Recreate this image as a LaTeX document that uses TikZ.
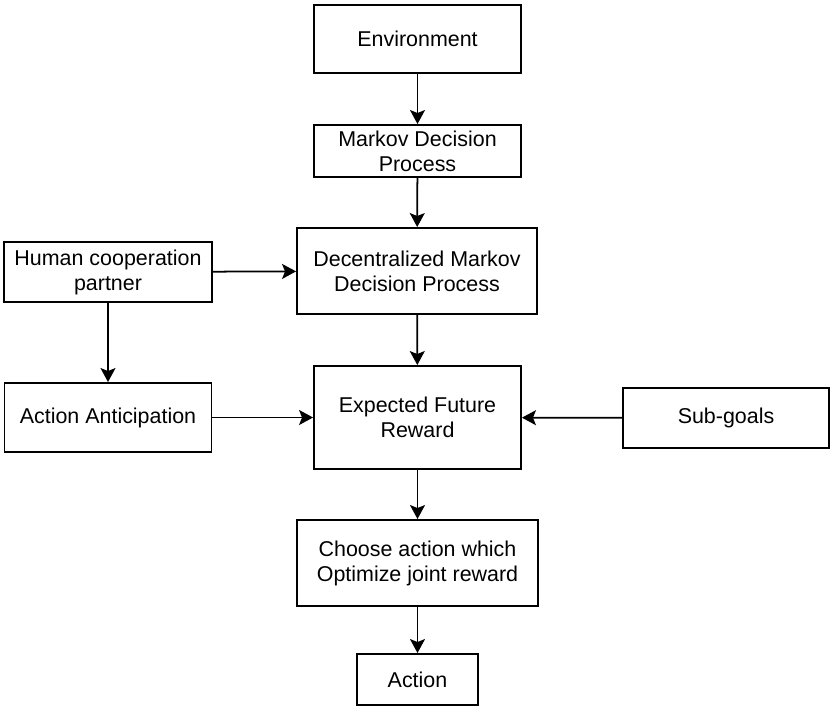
\documentclass[tikz,border=0pt]{standalone}
\usepackage{fontspec}
\setmainfont{Liberation Sans}
\usetikzlibrary{arrows.meta}

\begin{document}
\begin{tikzpicture}[x=0.02cm, y=-0.02cm, font=\fontsize{12.2}{14.2}\selectfont,
    box/.style={draw, line width=1.1pt, align=center, inner sep=0pt},
    arr/.style={-{Stealth[length=0.28cm, width=0.3cm, inset=0.06cm]}, line width=1pt}]
    \useasboundingbox (0,0) rectangle (830,706);
    \node[box, minimum width=4.14cm, minimum height=1.36cm] (env) at (417.5,39) {Environment};
    \node[box, minimum width=4.14cm, minimum height=1.04cm] (mdp) at (417.5,151) {Markov Decision\\Process};
    \node[box, minimum width=4.8cm, minimum height=1.72cm] (dec) at (417,271) {Decentralized Markov\\Decision Process};
    \node[box, minimum width=4.16cm, minimum height=1.2cm] (hum) at (108,272) {Human cooperation\\partner};
    \node[box, minimum width=4.14cm, minimum height=1.38cm] (ant) at (108,417.5) {Action Anticipation};
    \node[box, minimum width=4.14cm, minimum height=2.06cm] (rew) at (417.5,417.5) {Expected Future\\Reward};
    \node[box, minimum width=4.12cm, minimum height=1.2cm] (sub) at (726,418) {Sub-goals};
    \node[box, minimum width=4.82cm, minimum height=1.72cm] (cho) at (417.5,563) {Choose action which\\Optimize joint reward};
    \node[box, minimum width=2.42cm, minimum height=1.02cm] (act) at (417.5,679.5) {Action};
    \draw[arr] (env) to (mdp);
    \draw[arr] (mdp) to (dec);
    \draw[arr] (dec) to (rew);
    \draw[arr] (hum) to (dec);
    \draw[arr] (hum) to (ant);
    \draw[arr] (ant) to (rew);
    \draw[arr] (sub) to (rew);
    \draw[arr] (rew) to (cho);
    \draw[arr] (cho) to (act);
\end{tikzpicture}
\end{document}
